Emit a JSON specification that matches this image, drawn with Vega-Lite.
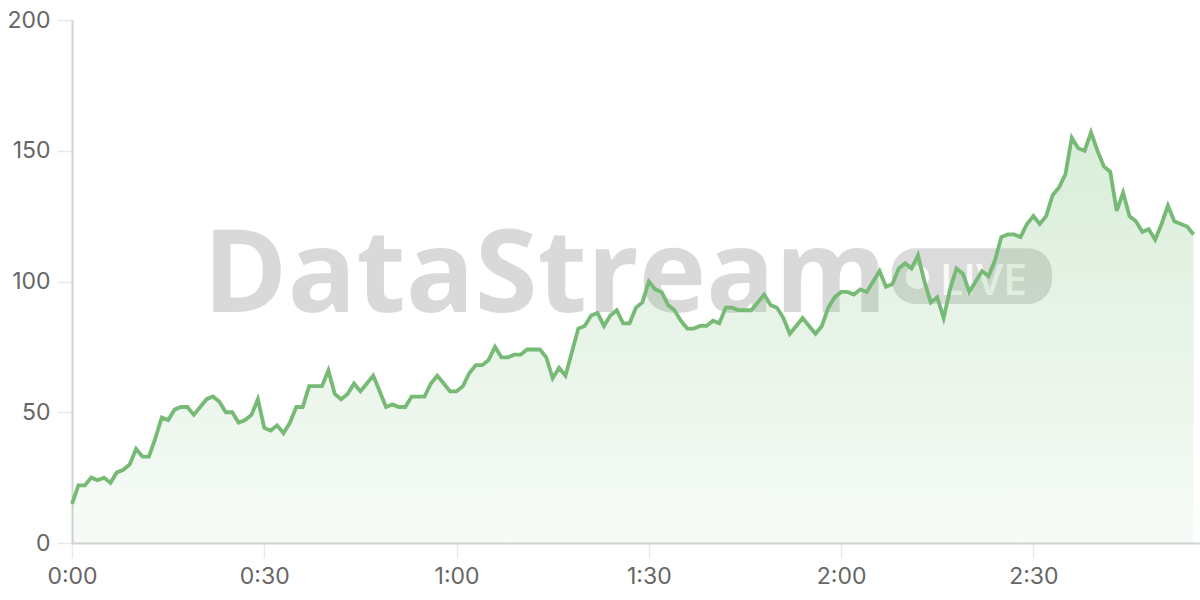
{
  "$schema": "https://vega.github.io/schema/vega-lite/v6.json",
  "width": 1128,
  "height": 523,
  "autosize": {"type": "none"},
  "padding": {"left": 72, "top": 20, "right": 0, "bottom": 57},
  "background": "#ffffff",
  "config": {
    "view": {"stroke": null},
    "axis": {
      "title": null,
      "domainColor": "#d2d2d2",
      "domainWidth": 2,
      "gridColor": "#e9e9e9",
      "gridWidth": 1.5,
      "tickColor": "#e9e9e9",
      "tickWidth": 1.5,
      "tickSize": 15,
      "labelFlush": false,
      "labelFont": "Inter",
      "labelFontSize": 23,
      "labelColor": "#666666"
    }
  },
  "datasets": {
    "series": [
      {"t":0,"v":15},{"t":1,"v":22},{"t":2,"v":22},{"t":3,"v":25},{"t":4,"v":24},{"t":5,"v":25},{"t":6,"v":23},{"t":7,"v":27},{"t":8,"v":28},{"t":9,"v":30},
      {"t":10,"v":36},{"t":11,"v":33},{"t":12,"v":33},{"t":13,"v":40},{"t":14,"v":48},{"t":15,"v":47},{"t":16,"v":51},{"t":17,"v":52},{"t":18,"v":52},{"t":19,"v":49},
      {"t":20,"v":52},{"t":21,"v":55},{"t":22,"v":56},{"t":23,"v":54},{"t":24,"v":50},{"t":25,"v":50},{"t":26,"v":46},{"t":27,"v":47},{"t":28,"v":49},{"t":29,"v":55},
      {"t":30,"v":44},{"t":31,"v":43},{"t":32,"v":45},{"t":33,"v":42},{"t":34,"v":46},{"t":35,"v":52},{"t":36,"v":52},{"t":37,"v":60},{"t":38,"v":60},{"t":39,"v":60},
      {"t":40,"v":66},{"t":41,"v":57},{"t":42,"v":55},{"t":43,"v":57},{"t":44,"v":61},{"t":45,"v":58},{"t":46,"v":61},{"t":47,"v":64},{"t":48,"v":58},{"t":49,"v":52},
      {"t":50,"v":53},{"t":51,"v":52},{"t":52,"v":52},{"t":53,"v":56},{"t":54,"v":56},{"t":55,"v":56},{"t":56,"v":61},{"t":57,"v":64},{"t":58,"v":61},{"t":59,"v":58},
      {"t":60,"v":58},{"t":61,"v":60},{"t":62,"v":65},{"t":63,"v":68},{"t":64,"v":68},{"t":65,"v":70},{"t":66,"v":75},{"t":67,"v":71},{"t":68,"v":71},{"t":69,"v":72},
      {"t":70,"v":72},{"t":71,"v":74},{"t":72,"v":74},{"t":73,"v":74},{"t":74,"v":71},{"t":75,"v":63},{"t":76,"v":67},{"t":77,"v":64},{"t":78,"v":73},{"t":79,"v":82},
      {"t":80,"v":83},{"t":81,"v":87},{"t":82,"v":88},{"t":83,"v":83},{"t":84,"v":87},{"t":85,"v":89},{"t":86,"v":84},{"t":87,"v":84},{"t":88,"v":90},{"t":89,"v":92},
      {"t":90,"v":100},{"t":91,"v":97},{"t":92,"v":96},{"t":93,"v":91},{"t":94,"v":89},{"t":95,"v":85},{"t":96,"v":82},{"t":97,"v":82},{"t":98,"v":83},{"t":99,"v":83},
      {"t":100,"v":85},{"t":101,"v":84},{"t":102,"v":90},{"t":103,"v":90},{"t":104,"v":89},{"t":105,"v":89},{"t":106,"v":89},{"t":107,"v":92},{"t":108,"v":95},{"t":109,"v":91},
      {"t":110,"v":90},{"t":111,"v":86},{"t":112,"v":80},{"t":113,"v":83},{"t":114,"v":86},{"t":115,"v":83},{"t":116,"v":80},{"t":117,"v":83},{"t":118,"v":90},{"t":119,"v":94},
      {"t":120,"v":96},{"t":121,"v":96},{"t":122,"v":95},{"t":123,"v":97},{"t":124,"v":96},{"t":125,"v":100},{"t":126,"v":104},{"t":127,"v":98},{"t":128,"v":99},{"t":129,"v":105},
      {"t":130,"v":107},{"t":131,"v":105},{"t":132,"v":110},{"t":133,"v":100},{"t":134,"v":92},{"t":135,"v":94},{"t":136,"v":86},{"t":137,"v":97},{"t":138,"v":105},{"t":139,"v":103},
      {"t":140,"v":96},{"t":141,"v":100},{"t":142,"v":104},{"t":143,"v":102},{"t":144,"v":108},{"t":145,"v":117},{"t":146,"v":118},{"t":147,"v":118},{"t":148,"v":117},{"t":149,"v":122},
      {"t":150,"v":125},{"t":151,"v":122},{"t":152,"v":125},{"t":153,"v":133},{"t":154,"v":136},{"t":155,"v":141},{"t":156,"v":155},{"t":157,"v":151},{"t":158,"v":150},{"t":159,"v":157},
      {"t":160,"v":150},{"t":161,"v":144},{"t":162,"v":142},{"t":163,"v":127},{"t":164,"v":134},{"t":165,"v":125},{"t":166,"v":123},{"t":167,"v":119},{"t":168,"v":120},{"t":169,"v":116},
      {"t":170,"v":122},{"t":171,"v":129},{"t":172,"v":123},{"t":173,"v":122},{"t":174,"v":121},{"t":175,"v":118}
    ]
  },
  "layer": [
    {
      "data": {"values": [{}]},
      "mark": {"type": "text", "text": "DataStream", "font": "Open Sans", "fontWeight": 700, "fontSize": 114, "align": "center", "baseline": "alphabetic", "color": "#000000", "opacity": 0.145},
      "encoding": {
        "x": {"datum": 73.8, "type": "quantitative"},
        "y": {"datum": 88.3, "type": "quantitative"}
      }
    },
    {
      "data": {"values": [{}]},
      "mark": {"type": "rect", "cornerRadius": 24, "color": "#000000", "opacity": 0.14},
      "encoding": {
        "x": {"datum": 127.9, "type": "quantitative"},
        "x2": {"datum": 152.9},
        "y": {"datum": 112.7, "type": "quantitative"},
        "y2": {"datum": 91.4}
      }
    },
    {
      "data": {"values": [{}]},
      "mark": {"type": "point", "shape": "circle", "filled": true, "size": 560, "color": "#ffffff", "opacity": 0.85},
      "encoding": {
        "x": {"datum": 131.9, "type": "quantitative"},
        "y": {"datum": 101.7, "type": "quantitative"}
      }
    },
    {
      "data": {"values": [{}]},
      "mark": {"type": "text", "text": "LIVE", "font": "Open Sans", "fontWeight": 600, "fontSize": 43, "align": "center", "baseline": "alphabetic", "color": "#ffffff", "opacity": 0.85},
      "encoding": {
        "x": {"datum": 142.2, "type": "quantitative"},
        "y": {"datum": 94.8, "type": "quantitative"}
      }
    },
    {
      "data": {"name": "series"},
      "mark": {
        "type": "area",
        "fill": {
          "gradient": "linear",
          "x1": 0, "y1": 1, "x2": 0, "y2": 0,
          "stops": [
            {"offset": 0, "color": "rgba(120,190,120,0.06)"},
            {"offset": 1, "color": "rgba(120,190,120,0.28)"}
          ]
        }
      },
      "encoding": {
        "x": {
          "field": "t", "type": "quantitative",
          "scale": {"domain": [0, 176], "nice": false, "zero": false},
          "axis": {
            "values": [0, 30, 60, 90, 120, 150],
            "labelPadding": 7,
            "labelExpr": "floor(datum.value / 60) + ':' + (datum.value % 60 < 10 ? '0' : '') + (datum.value % 60)"
          }
        },
        "y": {
          "field": "v", "type": "quantitative",
          "scale": {"domain": [0, 200], "nice": false},
          "axis": {"values": [0, 50, 100, 150, 200], "labelPadding": 7}
        }
      }
    },
    {
      "data": {"name": "series"},
      "mark": {"type": "line", "color": "#76ba76", "strokeWidth": 3.8, "strokeJoin": "miter"},
      "encoding": {
        "x": {"field": "t", "type": "quantitative"},
        "y": {"field": "v", "type": "quantitative"}
      }
    }
  ]
}
